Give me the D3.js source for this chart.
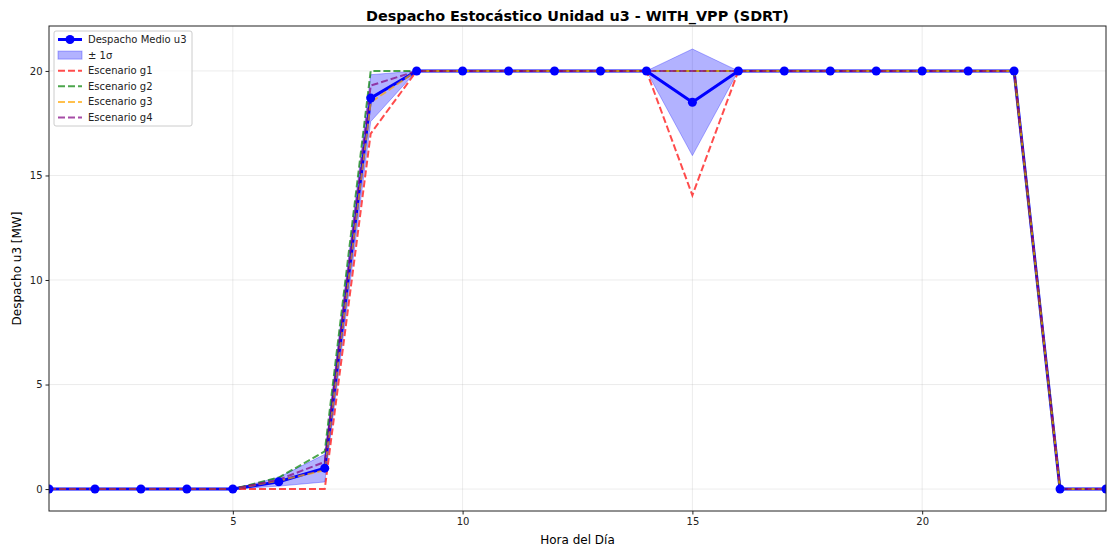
<!DOCTYPE html>
<html>
<head>
<meta charset="utf-8">
<script src="https://cdn.jsdelivr.net/npm/d3@7"></script>
<style>
  body { margin: 0; background: #fff; }
  svg { font-family: "DejaVu Sans", sans-serif; }
</style>
</head>
<body>
<div id="chart-area"></div>
<script>
// chart data
var hours = d3.range(1, 25);
var meanU3 = [0, 0, 0, 0, 0, 0.35, 1.0, 18.7, 20, 20, 20, 20, 20, 20, 18.5, 20, 20, 20, 20, 20, 20, 20, 0, 0];
var stdU3  = [0, 0, 0, 0, 0, 0.21, 0.66, 1.12, 0, 0, 0, 0, 0, 0, 2.55, 0, 0, 0, 0, 0, 0, 0, 0, 0];
var g1 = [0, 0, 0, 0, 0, 0, 0, 17.0, 20, 20, 20, 20, 20, 20, 14.05, 20, 20, 20, 20, 20, 20, 20, 0, 0];
var g2 = [0, 0, 0, 0, 0, 0.55, 1.8, 20, 20, 20, 20, 20, 20, 20, 20, 20, 20, 20, 20, 20, 20, 20, 0, 0];
var g3 = [0, 0, 0, 0, 0, 0.4, 0.9, 18.5, 20, 20, 20, 20, 20, 20, 20, 20, 20, 20, 20, 20, 20, 20, 0, 0];
var g4 = [0, 0, 0, 0, 0, 0.45, 1.3, 19.3, 20, 20, 20, 20, 20, 20, 20, 20, 20, 20, 20, 20, 20, 20, 0, 0];
var xTicks = [5, 10, 15, 20];
var yTicks = [0, 5, 10, 15, 20];

var scenarios = [
    {name: "Escenario g1", values: g1, color: "#ff0000"},
    {name: "Escenario g2", values: g2, color: "#008000"},
    {name: "Escenario g3", values: g3, color: "#ffa500"},
    {name: "Escenario g4", values: g4, color: "#800080"}
];

var W = 1107, H = 549;
var margin = {top: 26, right: 1, bottom: 38, left: 49};
var width = W - margin.left - margin.right,
    height = H - margin.top - margin.bottom;

var svg = d3.select("#chart-area").append("svg")
    .attr("width", W)
    .attr("height", H);

var defs = svg.append("defs");
defs.append("clipPath").attr("id", "clip")
    .append("rect").attr("width", width).attr("height", height);

var g = svg.append("g")
    .attr("transform", "translate(" + margin.left + "," + margin.top + ")");

var x = d3.scaleLinear().domain([1, 24]).range([0, width]);
var y = d3.scaleLinear().domain([-1.05, 22.15]).range([height, 0]);

// grid
g.append("g").selectAll("line.gx").data(xTicks).enter().append("line")
    .attr("x1", d => x(d)).attr("x2", d => x(d))
    .attr("y1", 0).attr("y2", height)
    .style("stroke", "#b0b0b0").style("stroke-opacity", 0.3).style("stroke-width", 0.8);
g.append("g").selectAll("line.gy").data(yTicks).enter().append("line")
    .attr("x1", 0).attr("x2", width)
    .attr("y1", d => y(d)).attr("y2", d => y(d))
    .style("stroke", "#b0b0b0").style("stroke-opacity", 0.3).style("stroke-width", 0.8);

var plot = g.append("g").attr("clip-path", "url(#clip)");

var line = d3.line()
    .x((d, i) => x(hours[i]))
    .y(d => y(d));

// mean line
plot.append("path")
    .attr("d", line(meanU3))
    .style("fill", "none")
    .style("stroke", "#0000ff")
    .style("stroke-width", 3)
    .style("stroke-linejoin", "round");

// ± 1 sigma band
var area = d3.area()
    .x((d, i) => x(hours[i]))
    .y0((d, i) => y(meanU3[i] - stdU3[i]))
    .y1((d, i) => y(meanU3[i] + stdU3[i]));
plot.append("path")
    .attr("d", area(meanU3))
    .style("fill", "#0000ff")
    .style("fill-opacity", 0.3)
    .style("stroke", "#0000ff")
    .style("stroke-opacity", 0.3)
    .style("stroke-width", 1);

// scenarios
scenarios.forEach(function(s) {
    plot.append("path")
        .attr("d", line(s.values))
        .style("fill", "none")
        .style("stroke", s.color)
        .style("stroke-opacity", 0.7)
        .style("stroke-width", 2)
        .style("stroke-dasharray", "7,3");
});

// mean markers
plot.selectAll("circle.m").data(meanU3).enter().append("circle")
    .attr("cx", (d, i) => x(hours[i]))
    .attr("cy", d => y(d))
    .attr("r", 4.5)
    .style("fill", "#0000ff");

// axes
var xAxis = g.append("g")
    .attr("transform", "translate(0," + height + ")")
    .call(d3.axisBottom(x).tickValues(xTicks).tickSize(3.5).tickPadding(3).tickFormat(d3.format("d")));
var yAxis = g.append("g")
    .call(d3.axisLeft(y).tickValues(yTicks).tickSize(3.5).tickPadding(3).tickFormat(d3.format("d")));
[xAxis, yAxis].forEach(function(a) {
    a.select(".domain").remove();
    a.selectAll("text").style("font-size", "10px").style("fill", "#222").style("font-family", "DejaVu Sans, sans-serif");
    a.selectAll("line").style("stroke", "#222");
});

// frame
g.append("rect")
    .attr("width", width).attr("height", height)
    .style("fill", "none").style("stroke", "#222").style("stroke-width", 1);

// labels
svg.append("text")
    .attr("x", margin.left + width / 2).attr("y", 21)
    .attr("text-anchor", "middle")
    .style("font-size", "14.4px").style("font-weight", "bold")
    .text("Despacho Estocástico Unidad u3 - WITH_VPP (SDRT)");
svg.append("text")
    .attr("x", margin.left + width / 2).attr("y", 544)
    .attr("text-anchor", "middle")
    .style("font-size", "12px")
    .text("Hora del Día");
svg.append("text")
    .attr("transform", "translate(21," + (margin.top + height / 2) + ") rotate(-90)")
    .attr("text-anchor", "middle")
    .style("font-size", "12px")
    .text("Despacho u3 [MW]");

// legend
var lg = g.append("g").attr("transform", "translate(5,5)");
lg.append("rect")
    .attr("width", 138).attr("height", 95).attr("rx", 2)
    .style("fill", "#fff").style("fill-opacity", 0.8)
    .style("stroke", "#cccccc").style("stroke-width", 1);

var items = [{name: "Despacho Medio u3", type: "mean"}, {name: "± 1σ", type: "band"}]
    .concat(scenarios.map(s => ({name: s.name, type: "dash", color: s.color})));
var row = lg.selectAll("g.item").data(items).enter().append("g")
    .attr("transform", (d, i) => "translate(0," + (8.5 + i * 15.6) + ")");
row.each(function(d) {
    var r = d3.select(this);
    if (d.type === "mean") {
        r.append("line").attr("x1", 4).attr("x2", 28).attr("y1", 0).attr("y2", 0)
            .style("stroke", "#0000ff").style("stroke-width", 3);
        r.append("circle").attr("cx", 16).attr("cy", 0).attr("r", 4.5).style("fill", "#0000ff");
    } else if (d.type === "band") {
        r.append("rect").attr("x", 4).attr("y", -4).attr("width", 24).attr("height", 8)
            .style("fill", "#0000ff").style("fill-opacity", 0.3)
            .style("stroke", "#0000ff").style("stroke-opacity", 0.3);
    } else {
        r.append("line").attr("x1", 4).attr("x2", 28).attr("y1", 0).attr("y2", 0)
            .style("stroke", d.color).style("stroke-opacity", 0.7)
            .style("stroke-width", 2).style("stroke-dasharray", "7,3");
    }
    r.append("text").attr("x", 34).attr("y", 3.5)
        .style("font-size", "10px").style("fill", "#222")
        .text(d.name);
});
</script>
</body>
</html>
